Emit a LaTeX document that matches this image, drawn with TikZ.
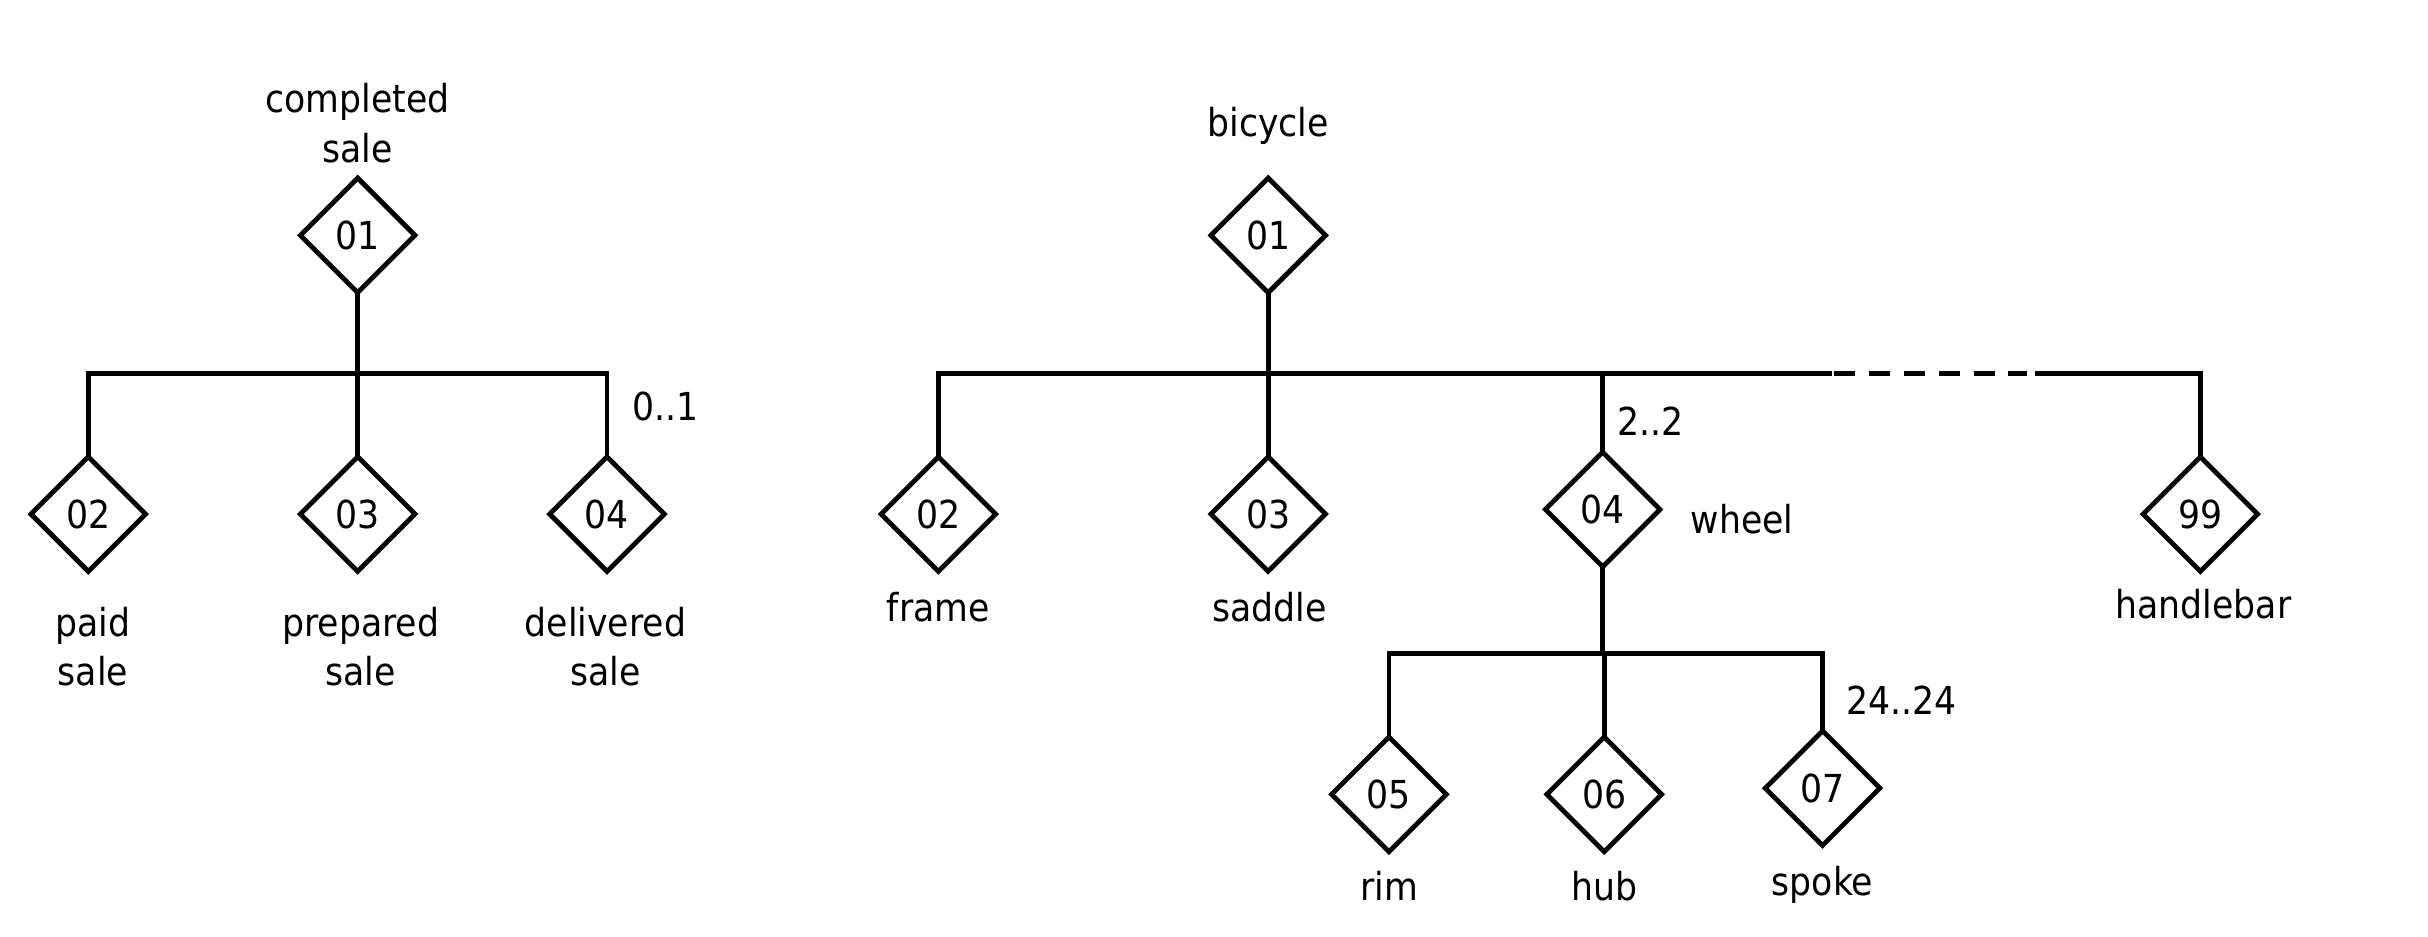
\documentclass[tikz,border=0pt]{standalone}
\usepackage{fontspec}
\setmainfont{DejaVu Sans Condensed}
\usetikzlibrary{shapes.geometric}
\begin{document}
\begin{tikzpicture}[x=0.25mm,y=-0.25mm,
  ent/.style={diamond,draw,line width=2.2pt,inner sep=0pt,outer sep=0pt,
    minimum width=18.5mm,minimum height=18.5mm,font=\fontsize{17.7}{21}\selectfont},
  lbl/.style={align=center,inner sep=0pt,text height=0.75em,text depth=0.22em,
    font=\fontsize{17.7}{22.7}\selectfont},
  conn/.style={line width=2.2pt},
  gapline/.style={line width=2.2pt,dash pattern=on 9.6pt off 6.4pt}]
\useasboundingbox (0,0) rectangle (1568,605);
% ---------- left tree ----------
\node[ent] (L1) at (231,152) {01};
\node[ent] (L2) at (57,332) {02};
\node[ent] (L3) at (231,332) {03};
\node[ent] (L4) at (392,332) {04};
\coordinate (lb) at (231,241);
\draw[conn] (L1) -- (lb);
\draw[conn] (L2) -- (L2 |- lb) -- (L4 |- lb) -- (L4);
\draw[conn] (L3) -- (L3 |- lb);
\node[lbl] (tL1) at (231,101) {completed\\sale};
\node[lbl] (tL2) at (60,439) {paid\\sale};
\node[lbl] (tL3) at (233,439) {prepared\\sale};
\node[lbl] (tL4) at (391,439) {delivered\\sale};
\node[lbl] (m1) at (430,268) {0..1};
% ---------- right tree ----------
\node[ent] (R1) at (819,152) {01};
\node[ent] (R2) at (606,332) {02};
\node[ent] (R3) at (819,332) {03};
\node[ent] (R4) at (1035,329) {04};
\node[ent] (R99) at (1421,332) {99};
\coordinate (rb) at (819,241);
\coordinate (d1) at (1183,241);
\coordinate (d1b) at (1184.6,241);
\coordinate (d2a) at (1309,241);
\coordinate (d2) at (1314,241);
\draw[conn] (R1) -- (rb);
\draw[conn] (R2) -- (R2 |- rb) -- (d1);
\draw[gapline] (d1b) -- (d2a);
\draw[conn] (d2) -- (R99 |- rb) -- (R99);
\draw[conn] (R3) -- (R3 |- rb);
\draw[conn] (R4) -- (R4 |- rb);
\node[ent] (R5) at (897,513) {05};
\node[ent] (R6) at (1036,513) {06};
\node[ent] (R7) at (1177,509) {07};
\coordinate (wb) at (1036,422);
\draw[conn] (R4) -- (R4 |- wb);
\draw[conn] (R5) -- (R5 |- wb) -- (R7 |- wb) -- (R7);
\draw[conn] (R6) -- (R6 |- wb);
\node[lbl] (tR1) at (819,84.5) {bicycle};
\node[lbl] (tR2) at (606,397.5) {frame};
\node[lbl] (tR3) at (820,397.5) {saddle};
\node[lbl] (tR4) at (1125,340.5) {wheel};
\node[lbl] (tR99) at (1423,395.5) {handlebar};
\node[lbl] (tR5) at (897,577.5) {rim};
\node[lbl] (tR6) at (1036,577.5) {hub};
\node[lbl] (tR7) at (1177,574.5) {spoke};
\node[lbl] (m2) at (1066,277.5) {2..2};
\node[lbl] (m3) at (1228,457.5) {24..24};
\end{tikzpicture}
\end{document}
